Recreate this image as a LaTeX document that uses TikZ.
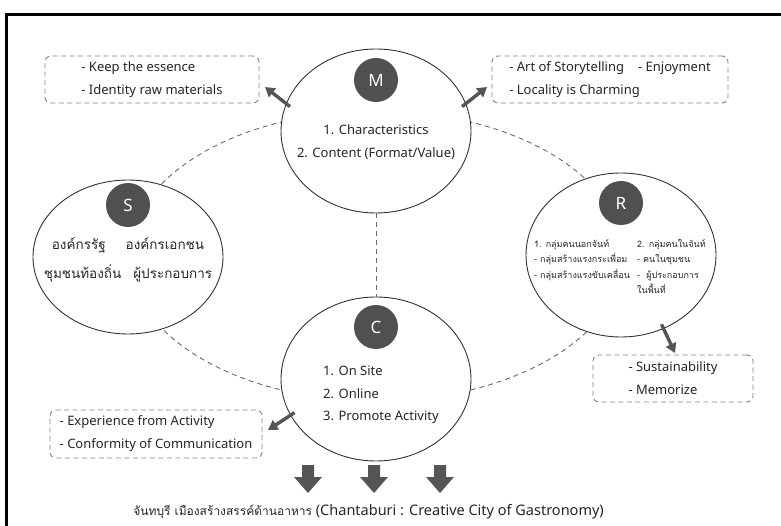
\documentclass[tikz,border=0pt]{standalone}
\usepackage{fontspec}
\setmainfont{Noto Sans}
\newfontfamily\thai[Script=Thai]{Loma}
\usetikzlibrary{shapes.geometric,arrows.meta}

\definecolor{ink}{HTML}{262626}
\definecolor{discfill}{HTML}{505050}
\definecolor{rim}{HTML}{333333}
\definecolor{dashc}{HTML}{858585}
\definecolor{pointc}{HTML}{555555}

\tikzset{
  pillar/.style={ellipse, draw=rim, line width=0.9pt, fill=white,
    minimum width=190pt, minimum height=164pt, inner sep=0pt},
  disc/.style={circle, fill=discfill, minimum size=44pt, inner sep=0pt,
    text=white, font=\fontsize{17}{17}\selectfont\bfseries},
  notebox/.style={draw=dashc, dash pattern=on 5pt off 3.5pt, line width=0.9pt,
    rounded corners=6pt, align=left, inner sep=0pt, text=ink,
    font=\fontsize{13}{23}\selectfont},
  loopline/.style={draw=dashc!80!black, dash pattern=on 5pt off 4pt, line width=0.9pt},
  pointer/.style={draw=pointc, line width=3.4pt, shorten <=-5pt,
    -{Triangle[length=9.5pt,width=11pt]}},
  body/.style={text=ink, inner sep=0pt, font=\fontsize{13}{22.5}\selectfont},
}

\begin{document}
\begin{tikzpicture}[x=1pt,y=-1pt]
\useasboundingbox (0,0) rectangle (781,526);
\clip (0,0) rectangle (781,526);
\fill[white] (0,0) rectangle (781,526);

% outer frame, running off the right and bottom edges
\draw[line width=3pt] (6.5,560) -- (6.5,14.5) -- (820,14.5);

% dashed ring linking the four ellipses
\coordinate (hub) at (376,256);
\draw[loopline] (hub) ellipse [x radius=247pt, y radius=145pt];

% the four ellipses
\node[pillar] (M) at (376,131) {};
\node[pillar] (C) at (376,379) {};
\node[pillar, minimum height=154pt] (S) at (128,257) {};
\node[pillar] (R) at (621,255) {};

\draw[loopline] (M.south) -- (C.north);

% letter discs
\node[disc] (Mb) at (376,80) {M};
\node[disc] (Sb) at (128,205) {S};
\node[disc] (Rb) at (621,203) {R};
\node[disc] (Cb) at (376,327) {C};

% ellipse contents
\node[body, align=center] (Mt) at (376,142) {1. Characteristics\\2. Content (Format/Value)};
\node[body, align=left, anchor=west] (Ct) at (323,395) {1. On Site\\2. Online\\3. Promote Activity};
\node[body, font=\thai\fontsize{13.5}{29}\selectfont, align=center] (St) at (128,260)
  {องค์กรรัฐ\hspace{20pt}องค์กรเอกชน\\ชุมชนท้องถิ่น\hspace{12pt}ผู้ประกอบการ};
\node[text=ink, font=\thai\fontsize{9}{15.5}\selectfont, anchor=north west, inner sep=0pt] (Rt) at (534,236)
  {\begin{tabular}{@{}p{103pt}@{}l@{}}
   1. กลุ่มคนนอกจันท์ & 2. กลุ่มคนในจันท์\\
   {-} กลุ่มสร้างแรงกระเพื่อม & {-} คนในชุมชน\\
   {-} กลุ่มสร้างแรงขับเคลื่อน & {-}\ \ ผู้ประกอบการ\\
    & ในพื้นที่
   \end{tabular}};

% dashed note boxes
\node[notebox, minimum width=214pt, minimum height=47pt] (B1) at (152,79.5)
  {{-} Keep the essence\\{-} Identity raw materials};
\node[notebox, minimum width=236pt, minimum height=47pt] (B2) at (610,79.5)
  {{-} Art of Storytelling\hspace{14pt}{-} Enjoyment\\{-} Locality is Charming};
\node[notebox, minimum width=160pt, minimum height=47pt] (B3) at (673,378.5)
  {{-} Sustainability\\{-} Memorize};
\node[notebox, minimum width=212pt, minimum height=48pt] (B4) at (156,434)
  {{-} Experience from Activity\\{-} Conformity of Communication};

% short pointers from the ellipses to the notes
\coordinate (p1) at (265,87);
\coordinate (p2) at (487,87);
\coordinate (p3) at (675,353);
\coordinate (p4) at (268,430);
\draw[pointer] (M.163) -- (p1);
\draw[pointer] (M.17) -- (p2);
\draw[pointer] (R.-60) -- (p3);
\draw[pointer] (C.203) -- (p4);

% three block arrows down to the conclusion
\foreach \x in {308,374,440}
  \fill[pointc] (\x-6,465) -- (\x+6,465) -- (\x+6,477) -- (\x+14,477)
    -- (\x,493) -- (\x-14,477) -- (\x-6,477) -- cycle;

\node[text=ink, inner sep=0pt, anchor=east, font=\fontsize{14.5}{16}\selectfont] (foot) at (604,512)
  {{\thai\fontsize{12}{16}\selectfont จันทบุรี เมืองสร้างสรรค์ด้านอาหาร} (Chantaburi : Creative City of Gastronomy)};
\end{tikzpicture}
\end{document}
